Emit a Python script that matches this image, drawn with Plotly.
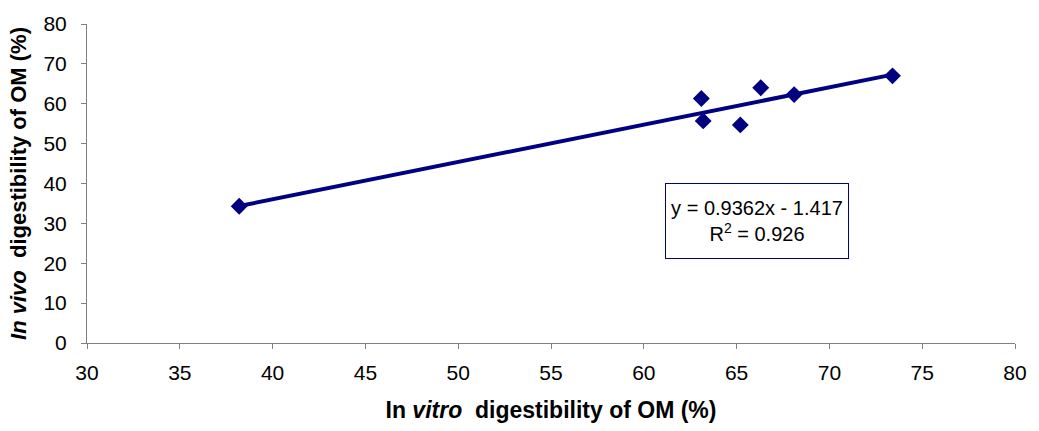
import plotly.graph_objects as go

# Data
in_vitro = [38.2, 63.1, 63.2, 65.2, 66.3, 68.1, 73.4]
in_vivo = [34.3, 61.3, 55.7, 54.7, 64.0, 62.3, 67.0]

slope = 0.9362
intercept = -1.417
r2 = 0.926

x_ticks = [30, 35, 40, 45, 50, 55, 60, 65, 70, 75, 80]
y_ticks = [0, 10, 20, 30, 40, 50, 60, 70, 80]

navy = "#000080"
font_family = "Liberation Sans, Arial, sans-serif"

xmin, xmax = min(in_vitro), max(in_vitro)
trend_x = [xmin, xmax]
trend_y = [slope * v + intercept for v in trend_x]

fig = go.Figure()
fig.add_trace(go.Scatter(x=trend_x, y=trend_y, mode="lines",
                         line=dict(color=navy, width=4), showlegend=False,
                         hoverinfo="skip"))
fig.add_trace(go.Scatter(x=in_vitro, y=in_vivo, mode="markers",
                         marker=dict(symbol="diamond", size=13, color=navy),
                         showlegend=False))

fig.add_annotation(x=66.1, y=30.6, xref="x", yref="y",
                   text=f"y = {slope}x - {abs(intercept)}<br>R<sup>2</sup> = {r2}",
                   showarrow=False, align="center",
                   font=dict(family=font_family, size=20, color="black"),
                   bordercolor=navy, borderwidth=1, borderpad=2,
                   bgcolor="white", width=178, height=70)

axis_common = dict(showgrid=False, zeroline=False, showline=True,
                   linecolor="#808080", linewidth=1, ticks="outside",
                   ticklen=5, tickcolor="#808080", mirror=False,
                   tickfont=dict(family=font_family, size=21, color="black"))

fig.update_xaxes(range=[30, 80], tickvals=x_ticks, **axis_common,
                 ticklabelstandoff=6,
                 title=dict(text="<b>In <i>vitro</i>  digestibility of OM (%)</b>",
                            font=dict(family=font_family, size=23, color="black"),
                            standoff=18))
fig.update_yaxes(range=[0, 80], tickvals=y_ticks, **axis_common,
                 ticklabelstandoff=10,
                 title=dict(text="<b><i>In vivo</i>  digestibility of OM (%)</b>",
                            font=dict(family=font_family, size=22, color="black"),
                            standoff=10))

fig.update_layout(width=1039, height=431, plot_bgcolor="white",
                  paper_bgcolor="white",
                  margin=dict(l=87, r=17, t=16, b=88))

fig.write_html("out.html")
